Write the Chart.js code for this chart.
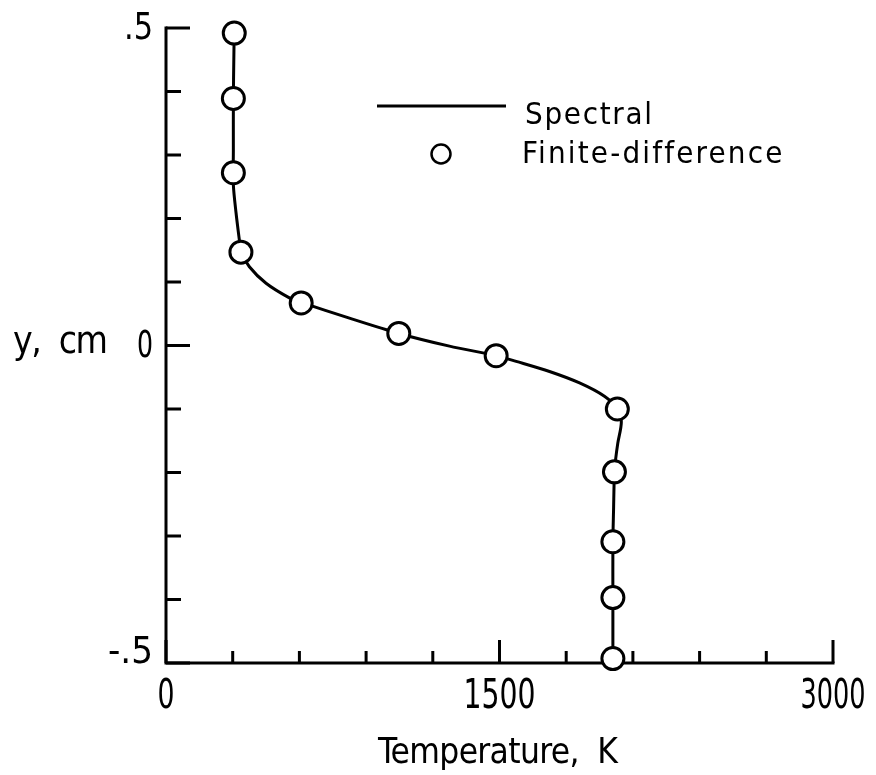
<!DOCTYPE html>
<html>
<head>
<meta charset="utf-8">
<script src="https://cdn.jsdelivr.net/npm/chart.js@4.4.1/dist/chart.umd.min.js"></script>
<style>
  html, body { margin: 0; padding: 0; background: #fff; }
  #chart { display: block; }
</style>
</head>
<body>
<canvas id="chart" width="876" height="775"></canvas>
<script>
/* ===== DATA ===== */
// Spectral solution (solid line), temperature in K vs y in cm
const spectralT = [307, 305, 303, 303, 303, 315, 330, 337, 375, 450, 555, 608, 825, 1047, 1275, 1485,
                   1575, 1725, 1860, 1972, 2030, 2048, 2032, 2022, 2017, 2013, 2010, 2010, 2010];
const spectralY = [0.500, 0.450, 0.389, 0.308, 0.253, 0.209, 0.166, 0.148, 0.124, 0.098, 0.075, 0.068, 0.043, 0.019, -0.001, -0.016,
                   -0.025, -0.041, -0.059, -0.080, -0.100, -0.120, -0.154, -0.180, -0.199, -0.259, -0.309, -0.401, -0.500];

// Finite-difference solution (open circles)
const fdT = [307, 303, 303, 337, 608, 1047, 1485, 2030, 2017, 2010, 2010, 2010];
const fdY = [0.492, 0.389, 0.272, 0.147, 0.067, 0.019, -0.016, -0.100, -0.199, -0.309, -0.397, -0.493];

// Axes
const xMajorTicks = [0, 1500, 3000];
const xTickLabels = ['0', '1500', '3000'];
const xMinorTicks = [300, 600, 900, 1200, 1800, 2100, 2400, 2700];
const yMajorTicks = [0.5, 0, -0.5];
const yTickLabels = ['.5', '0', '-.5'];
const yMinorTicks = [0.4, 0.3, 0.2, 0.1, -0.1, -0.2, -0.3, -0.4];

const seriesNames = ['Spectral', 'Finite-difference'];
const xTitle = 'Temperature,  K';
const yTitle = 'y,  cm';

/* ===== STYLE ===== */
const FONT = '"Liberation Sans Narrow", "DejaVu Sans Condensed", "Liberation Sans", sans-serif';
const INK = '#000';
// printed widths of the tick labels (condensed lettering)
const xLabelWidths = [17, 72, 65];
const yLabelWidths = [29, 16, 45];

const toPoints = (xs, ys) => xs.map((x, i) => ({ x, y: ys[i] }));

// text spread with letter spacing to a given width, starting at left
function fitText(ctx, text, left, baseline, size, width) {
  ctx.font = `${size}px ${FONT}`;
  ctx.letterSpacing = '0px';
  const w = ctx.measureText(text).width;
  const ls = (width - w) / Math.max(1, text.length - 1);
  ctx.letterSpacing = `${ls}px`;
  ctx.textAlign = 'left';
  ctx.textBaseline = 'alphabetic';
  ctx.fillText(text, left, baseline);
  ctx.letterSpacing = '0px';
}

// text squeezed horizontally to a given width; anchor: 'center' | 'right'
function squeezeText(ctx, text, ax, baseline, size, width, anchor) {
  ctx.font = `${size}px ${FONT}`;
  ctx.textAlign = 'left';
  ctx.textBaseline = 'alphabetic';
  const w = ctx.measureText(text).width;
  const k = width / w;
  const left = anchor === 'center' ? ax - width / 2 : ax - width;
  ctx.save();
  ctx.translate(left, baseline);
  ctx.scale(k, 1);
  ctx.fillText(text, 0, 0);
  ctx.restore();
}

/* ===== AXES PLUGIN ===== */
const axesPlugin = {
  id: 'paperAxes',
  beforeDatasetsDraw(chart) {
    const { ctx, chartArea: a, scales: { x, y } } = chart;
    ctx.save();
    ctx.strokeStyle = INK;
    ctx.lineWidth = 3;
    ctx.lineCap = 'square';

    // axis lines
    ctx.beginPath();
    ctx.moveTo(a.left, a.top);
    ctx.lineTo(a.left, a.bottom);
    ctx.lineTo(a.right, a.bottom);
    ctx.stroke();

    // inward ticks
    ctx.lineCap = 'butt';
    ctx.beginPath();
    yMajorTicks.forEach(v => { const p = y.getPixelForValue(v); ctx.moveTo(a.left, p); ctx.lineTo(a.left + 24, p); });
    yMinorTicks.forEach(v => { const p = y.getPixelForValue(v); ctx.moveTo(a.left, p); ctx.lineTo(a.left + 15, p); });
    xMajorTicks.forEach(v => { const p = x.getPixelForValue(v); ctx.moveTo(p, a.bottom); ctx.lineTo(p, a.bottom - 23); });
    xMinorTicks.forEach(v => { const p = x.getPixelForValue(v); ctx.moveTo(p, a.bottom); ctx.lineTo(p, a.bottom - 12); });
    ctx.stroke();
    ctx.restore();
  },
  afterDraw(chart) {
    const { ctx, chartArea: a, scales: { x, y } } = chart;
    ctx.save();
    ctx.fillStyle = INK;

    // tick labels
    xMajorTicks.forEach((v, i) => {
      squeezeText(ctx, xTickLabels[i], x.getPixelForValue(v), a.bottom + 45, 40, xLabelWidths[i], 'center');
    });
    yMajorTicks.forEach((v, i) => {
      const p = y.getPixelForValue(v);
      const base = v === y.min ? p : p + 11;
      squeezeText(ctx, yTickLabels[i], a.left - 13, base, 37, yLabelWidths[i], 'right');
    });

    // axis titles
    fitText(ctx, xTitle, 378, 763, 35, 240);
    fitText(ctx, yTitle, 13, 353, 37, 95);

    // legend
    ctx.strokeStyle = INK;
    ctx.lineWidth = 3;
    ctx.beginPath();
    ctx.moveTo(377, 106);
    ctx.lineTo(506, 106);
    ctx.stroke();
    fitText(ctx, seriesNames[0], 525, 124, 31, 127);

    ctx.lineWidth = 2.5;
    ctx.fillStyle = '#fff';
    ctx.beginPath();
    ctx.arc(441, 154, 9.5, 0, Math.PI * 2);
    ctx.fill();
    ctx.stroke();
    ctx.fillStyle = INK;
    fitText(ctx, seriesNames[1], 522, 163, 31, 260);

    ctx.restore();
  }
};

/* ===== CHART ===== */
new Chart(document.getElementById('chart').getContext('2d'), {
  type: 'scatter',
  data: {
    datasets: [
      {
        label: seriesNames[1],
        data: toPoints(fdT, fdY),
        showLine: false,
        pointRadius: 11,
        pointBorderWidth: 3,
        pointBackgroundColor: '#fff',
        pointBorderColor: INK,
        order: 0,
        clip: false,
      },
      {
        label: seriesNames[0],
        data: toPoints(spectralT, spectralY),
        showLine: true,
        borderColor: INK,
        borderWidth: 3,
        pointRadius: 0,
        tension: 0.3,
        fill: false,
        order: 1,
        clip: false,
      },
    ],
  },
  options: {
    responsive: false,
    devicePixelRatio: 1,
    animation: false,
    layout: { padding: { left: 166, right: 43, top: 28, bottom: 112 } },
    plugins: { legend: { display: false }, tooltip: { enabled: false } },
    scales: {
      x: { type: 'linear', min: 0, max: 3000, display: false },
      y: { type: 'linear', min: -0.5, max: 0.5, display: false },
    },
  },
  plugins: [axesPlugin],
});
</script>
</body>
</html>
